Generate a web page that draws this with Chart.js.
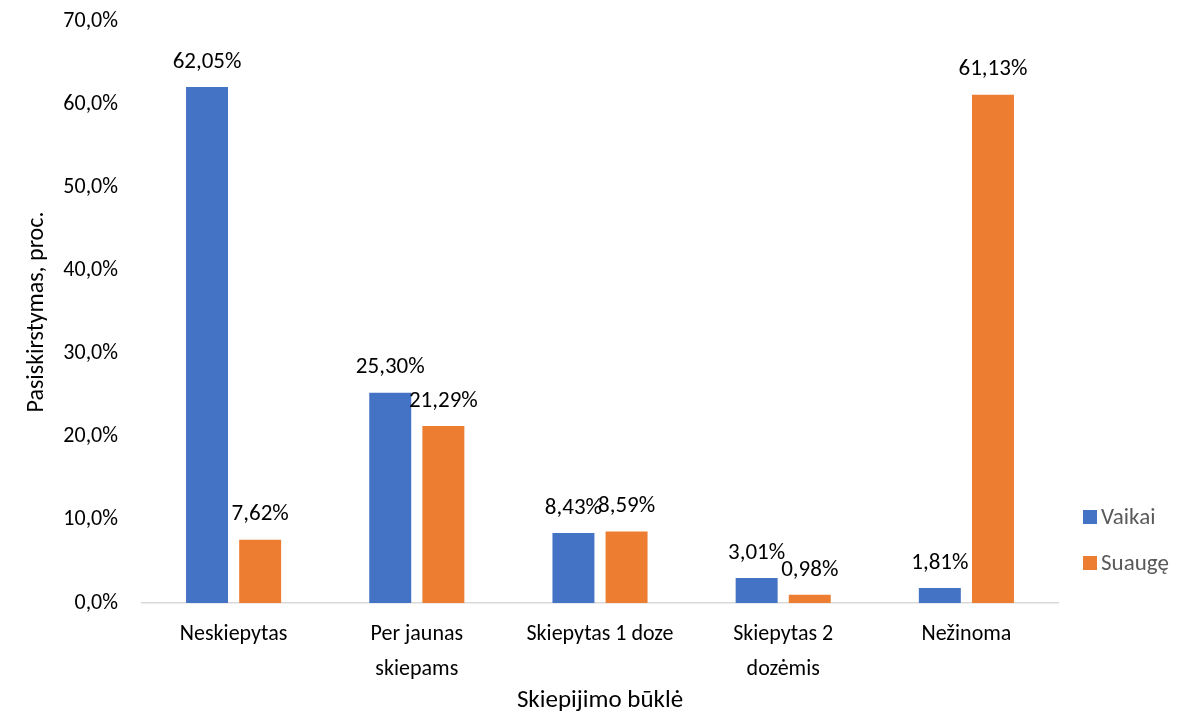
<!DOCTYPE html>
<html><head><meta charset="utf-8">
<script src="https://cdn.jsdelivr.net/npm/chart.js@4/dist/chart.umd.min.js"></script>
<style>html,body{margin:0;padding:0;background:#fff}#wrap{width:1186px;height:716px}</style>
</head><body><div id="wrap"><canvas id="c" width="1186" height="716"></canvas></div>
<script>
const categories = ["Neskiepytas", ["Per jaunas","skiepams"], "Skiepytas 1 doze", ["Skiepytas 2","dozėmis"], "Nežinoma"];
const vaikai = [62.05, 25.30, 8.43, 3.01, 1.81];
const suauge = [7.62, 21.29, 8.59, 0.98, 61.13];
const seriesNames = ["Vaikai", "Suaugę"];
const seriesColors = ["#4472C4", "#ED7D31"];
const yTicks = [0,10,20,30,40,50,60,70];

const FONT = "Carlito, Calibri, Lato, 'Open Sans', sans-serif";
const fmt = v => v.toFixed(2).replace('.', ',') + '%';

const labelPlugin = {
  id: 'valLabels',
  afterDatasetsDraw(chart) {
    const ctx = chart.ctx;
    ctx.save();
    ctx.font = "23px " + FONT;
    ctx.fillStyle = '#000';
    ctx.textAlign = 'center';
    ctx.textBaseline = 'middle';
    chart.data.datasets.forEach((ds, i) => {
      chart.getDatasetMeta(i).data.forEach((bar, j) => {
        ctx.fillText(fmt(ds.data[j]), bar.x, bar.y - 25);
      });
    });
    ctx.restore();
  }
};

const legendPlugin = {
  id: 'sideLegend',
  afterDraw(chart) {
    const ctx = chart.ctx;
    const area = chart.chartArea;
    ctx.save();
    ctx.font = "23px " + FONT;
    ctx.textBaseline = 'middle';
    ctx.textAlign = 'left';
    const x0 = area.right + 25;
    const yStart = area.bottom - 86;
    chart.data.datasets.forEach((ds, i) => {
      const y = yStart + i * 46;
      ctx.fillStyle = ds.backgroundColor;
      ctx.fillRect(x0, y - 7, 14, 14);
      ctx.fillStyle = '#595959';
      ctx.fillText(ds.label, x0 + 18, y + 1);
    });
    ctx.restore();
  }
};

new Chart(document.getElementById('c'), {
  type: 'bar',
  data: {
    labels: categories,
    datasets: [
      { label: seriesNames[0], data: vaikai, backgroundColor: seriesColors[0], categoryPercentage: 0.58, barPercentage: 0.79 },
      { label: seriesNames[1], data: suauge, backgroundColor: seriesColors[1], categoryPercentage: 0.58, barPercentage: 0.79 }
    ]
  },
  options: {
    responsive: false,
    animation: false,
    layout: { padding: { top: 0, right: 128, left: 0, bottom: 0 } },
    plugins: {
      legend: { display: false },
      tooltip: { enabled: false }
    },
    scales: {
      x: {
        afterFit: s => { s.height = 113; },
        grid: { display: false, drawTicks: false },
        border: { display: true, color: '#D9D9D9', width: 1.5 },
        ticks: { color: '#000', padding: 14, maxRotation: 0, font: { size: 22, family: FONT, lineHeight: 1.6 } },
        title: { display: true, text: 'Skiepijimo būklė', color: '#000', font: { size: 25, family: FONT }, padding: { top: 0, bottom: 0 } }
      },
      y: {
        min: 0, max: 70,
        afterFit: s => { s.width = 142; s.paddingTop = 21; s.paddingBottom = 0; },
        afterBuildTicks: s => { s.ticks = yTicks.map(v => ({ value: v })); },
        grid: { display: false, drawTicks: false },
        border: { display: false },
        ticks: { color: '#000', padding: 24, font: { size: 22, family: FONT }, callback: v => v.toFixed(1).replace('.', ',') + '%' },
        title: { display: true, text: 'Pasiskirstymas, proc.', color: '#000', font: { size: 24, family: FONT }, padding: { top: 23, bottom: 0 } }
      }
    }
  },
  plugins: [labelPlugin, legendPlugin]
});
</script></body></html>
